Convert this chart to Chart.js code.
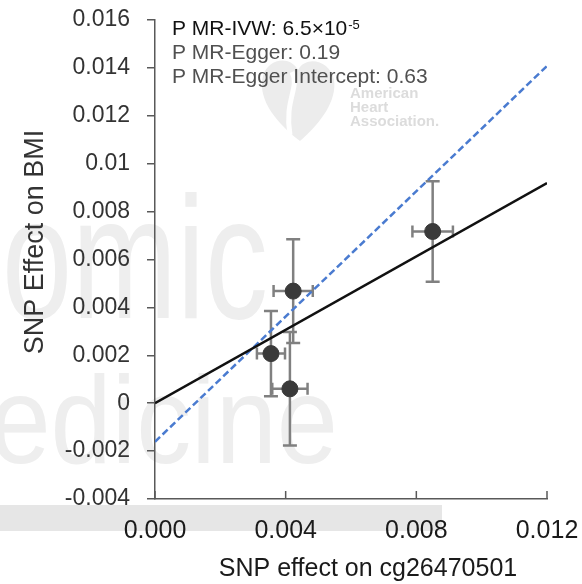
<!DOCTYPE html>
<html>
<head>
<meta charset="utf-8">
<script src="https://cdn.jsdelivr.net/npm/chart.js@4.4.0/dist/chart.umd.min.js"></script>
<style>
    html, body { margin: 0; padding: 0; background: #fff; }
</style>
</head>
<body>
<canvas id="chart1" width="582" height="584"></canvas>
<script>
//--------------------------------------DATOS
var snpX = [0.0085, 0.00423, 0.00355, 0.00413];
var snpY = [0.00717, 0.00468, 0.00207, 0.0006];
var errX = [0.00062, 0.0006, 0.00043, 0.00054];
var errY = [0.0021, 0.00217, 0.00178, 0.00237];

// rectas IVW y Egger (extremos en x = 0 y x = 0.012)
var rectaX = [0, 0.012];
var ivwY = [0, 0.00919];
var eggerY = [-0.00161, 0.01408];

var xTickLabels = ["0.000", "0.004", "0.008", "0.012"];
var yTickLabels = ["-0.004", "-0.002", "0", "0.002", "0.004", "0.006", "0.008", "0.01", "0.012", "0.014", "0.016"];

var textosP = ["P MR-IVW: 6.5\u00d710", "P MR-Egger: 0.19", "P MR-Egger Intercept: 0.63"];
var tituloX = "SNP effect on cg26470501";
var tituloY = "SNP Effect on BMI";

var fuente = '"Liberation Sans", Arial, sans-serif';
var colorEje = "#595959";

function puntos(xs, ys) {
    var arr = [];
    for (var i = 0; i < xs.length; i++) {
        arr.push({x: xs[i], y: ys[i]});
    }
    return arr;
}

//--------------------------------------PLUGINS
var fondo = {
    id: "fondo",
    beforeDraw: function (chart) {
        var ctx = chart.ctx;
        ctx.save();
        ctx.fillStyle = "#fff";
        ctx.fillRect(0, 0, chart.width, chart.height);

        // franja gris bajo el eje x
        ctx.fillStyle = "#e6e6e6";
        ctx.fillRect(0, 505, 442, 26);

        // marca de agua
        ctx.fillStyle = "#eeeeee";
        ctx.textAlign = "right";
        ctx.textBaseline = "alphabetic";
        ctx.save();
        ctx.translate(268, 318);
        ctx.scale(0.72, 1);
        ctx.font = "175px " + fuente;
        ctx.fillText("Genomic", 0, 0);
        ctx.restore();
        ctx.save();
        ctx.translate(338, 463);
        ctx.scale(0.88, 1);
        ctx.font = "125px " + fuente;
        ctx.fillText("Medicine", 0, 0);
        ctx.restore();

        // logo
        ctx.fillStyle = "#ececec";
        ctx.beginPath();
        ctx.moveTo(300, 141);
        ctx.bezierCurveTo(270, 118, 258, 95, 263, 76);
        ctx.bezierCurveTo(268, 58, 290, 55, 298, 70);
        ctx.bezierCurveTo(306, 55, 330, 60, 334, 80);
        ctx.bezierCurveTo(337, 100, 322, 122, 300, 141);
        ctx.closePath();
        ctx.fill();
        ctx.strokeStyle = "#fff";
        ctx.lineWidth = 5;
        ctx.beginPath();
        ctx.moveTo(292, 72);
        ctx.bezierCurveTo(300, 88, 284, 100, 290, 135);
        ctx.stroke();
        ctx.fillStyle = "#dcdcdc";
        ctx.textAlign = "left";
        ctx.font = "bold 15px " + fuente;
        ctx.fillText("American", 350, 98);
        ctx.fillText("Heart", 350, 112);
        ctx.fillText("Association.", 350, 126);
        ctx.restore();
    }
};

var barrasError = {
    id: "barrasError",
    beforeDatasetsDraw: function (chart) {
        var ctx = chart.ctx;
        var sx = chart.scales.x;
        var sy = chart.scales.y;
        ctx.save();
        ctx.strokeStyle = "#808080";
        ctx.lineWidth = 2.5;
        for (var i = 0; i < snpX.length; i++) {
            var cx = sx.getPixelForValue(snpX[i]);
            var cy = sy.getPixelForValue(snpY[i]);
            var x0 = sx.getPixelForValue(snpX[i] - errX[i]);
            var x1 = sx.getPixelForValue(snpX[i] + errX[i]);
            var y0 = sy.getPixelForValue(snpY[i] - errY[i]);
            var y1 = sy.getPixelForValue(snpY[i] + errY[i]);
            ctx.beginPath();
            ctx.moveTo(cx, y0); ctx.lineTo(cx, y1);
            ctx.moveTo(cx - 7, y0); ctx.lineTo(cx + 7, y0);
            ctx.moveTo(cx - 7, y1); ctx.lineTo(cx + 7, y1);
            ctx.moveTo(x0, cy); ctx.lineTo(x1, cy);
            ctx.moveTo(x0, cy - 6); ctx.lineTo(x0, cy + 6);
            ctx.moveTo(x1, cy - 6); ctx.lineTo(x1, cy + 6);
            ctx.stroke();
        }
        ctx.restore();
    }
};

var textos = {
    id: "textos",
    afterDraw: function (chart) {
        var ctx = chart.ctx;
        var sx = chart.scales.x;
        var area = chart.chartArea;
        ctx.save();

        // marcas del eje x hacia dentro
        ctx.strokeStyle = colorEje;
        ctx.lineWidth = 1.5;
        ctx.beginPath();
        sx.ticks.forEach(function (t) {
            var px = sx.getPixelForValue(t.value);
            ctx.moveTo(px, area.bottom);
            ctx.lineTo(px, area.bottom - 8);
        });
        ctx.stroke();

        // valores P
        ctx.textAlign = "left";
        ctx.textBaseline = "alphabetic";
        ctx.font = "21px " + fuente;
        ctx.fillStyle = "#111";
        ctx.fillText(textosP[0], 172, 35);
        var w = ctx.measureText(textosP[0]).width;
        ctx.font = "13px " + fuente;
        ctx.fillText("-5", 172 + w + 1, 29);
        ctx.font = "21px " + fuente;
        ctx.fillStyle = "#505050";
        ctx.fillText(textosP[1], 172, 59);
        ctx.fillText(textosP[2], 172, 83);

        // titulos de ejes
        ctx.fillStyle = "#1a1a1a";
        ctx.textAlign = "center";
        ctx.font = "25px " + fuente;
        ctx.fillText(tituloX, 368, 576);
        ctx.save();
        ctx.translate(43, 242);
        ctx.rotate(-Math.PI / 2);
        ctx.font = "27px " + fuente;
        ctx.fillStyle = "#333";
        ctx.fillText(tituloY, 0, 0);
        ctx.restore();
        ctx.restore();
    }
};

//--------------------------------------GRAFICA
var popCanvas = document.getElementById("chart1");
var scatterChart = new Chart(popCanvas, {
    type: "scatter",
    data: {
        datasets: [{
            label: "SNPs",
            data: puntos(snpX, snpY),
            backgroundColor: "#3a3a3a",
            borderColor: "#3a3a3a",
            pointRadius: 8,
            pointHoverRadius: 8,
            order: 0
        }, {
            label: "MR-IVW",
            data: puntos(rectaX, ivwY),
            showLine: true,
            borderColor: "#111",
            borderWidth: 2.5,
            pointRadius: 0,
            order: 1
        }, {
            label: "MR-Egger",
            data: puntos(rectaX, eggerY),
            showLine: true,
            borderColor: "#4a7bd0",
            borderWidth: 2.5,
            borderDash: [7, 3.5],
            pointRadius: 0,
            order: 2
        }]
    },
    options: {
        responsive: false,
        animation: false,
        layout: {padding: {top: 20, right: 35, left: 0, bottom: 0}},
        plugins: {
            legend: {display: false},
            tooltip: {enabled: false}
        },
        scales: {
            x: {
                type: "linear",
                min: 0,
                max: 0.012,
                afterFit: function (s) {
                    s.height = 85;
                    s.paddingLeft = 0;
                    s.paddingRight = 0;
                },
                grid: {display: false},
                border: {display: true, color: colorEje, width: 1.5},
                ticks: {
                    stepSize: 0.004,
                    padding: 9,
                    maxRotation: 0,
                    color: "#1a1a1a",
                    font: {family: fuente, size: 25},
                    callback: function (v, i) { return xTickLabels[i]; }
                }
            },
            y: {
                type: "linear",
                min: -0.004,
                max: 0.016,
                afterFit: function (s) {
                    s.width = 155;
                    s.paddingTop = 0;
                    s.paddingBottom = 0;
                },
                grid: {drawOnChartArea: false, drawTicks: true, tickLength: 8, color: colorEje, lineWidth: 1.5},
                border: {display: true, color: colorEje, width: 1.5},
                ticks: {
                    stepSize: 0.002,
                    padding: 17,
                    color: "#333",
                    font: {family: fuente, size: 23},
                    callback: function (v, i) { return yTickLabels[i]; }
                }
            }
        }
    },
    plugins: [fondo, barrasError, textos]
});
</script>
</body>
</html>
